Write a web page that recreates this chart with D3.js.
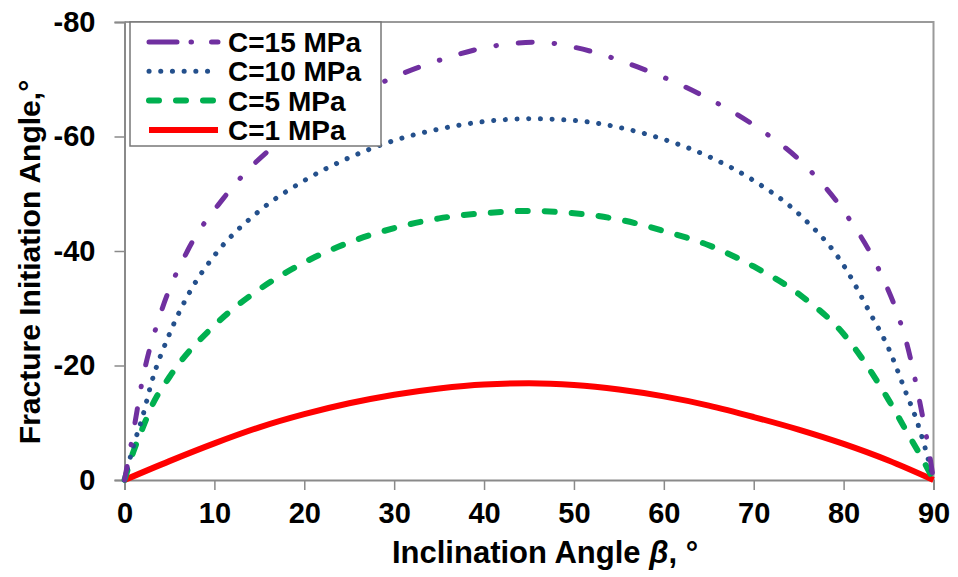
<!DOCTYPE html>
<html>
<head>
<meta charset="utf-8">
<script src="https://cdn.jsdelivr.net/npm/d3@7"></script>
<style>
  body { margin: 0; background: #fff; }
  text { font-family: "Liberation Sans", Arial, sans-serif; font-weight: bold; fill: #000; }
</style>
</head>
<body>
<div class="chart"></div>
<script>
// series data (beta in degrees, angle in degrees)
var beta15 = [0, 1, 2, 4, 7, 11, 16, 20, 25, 29, 36, 40, 43, 46, 50, 57, 64, 70, 76, 80, 84, 86, 87, 88.5, 89.5, 90];
var val15  = [0, -8.5, -17.5, -29, -40, -49.2, -57.5, -62, -66.5, -69.7, -73.8, -75.5, -76.2, -76.5, -75.6, -72.2, -67.4, -62, -54.5, -47, -36.5, -29, -24, -13.4, -5, 0];

var beta10 = [0, 1, 2, 3, 5, 7.5, 10, 15, 20, 25, 30, 35, 40, 45, 50, 55, 60, 65, 70, 75, 80, 83, 85, 87, 88, 89, 90];
var val10  = [0, -6, -11, -17, -25.5, -33.5, -39.2, -47, -52.3, -56.3, -59.3, -61.3, -62.6, -63.1, -62.8, -61.6, -59.5, -56.5, -52.3, -46.5, -37.5, -29, -23, -15, -11, -6, 0];

var beta5 = [0, 1, 2, 3, 5, 10, 15, 20, 25, 30, 35, 40, 45, 50, 55, 60, 65, 70, 75, 80, 85, 87, 89, 90];
var val5  = [0, -5, -9, -12.8, -18, -27, -33.3, -38, -41.5, -44, -45.7, -46.6, -47, -46.6, -45.5, -43.5, -41, -37.3, -32.5, -25.5, -14, -8.5, -3, 0];

var beta1 = [0, 5, 10, 15, 20, 25, 30, 35, 40, 45, 50, 55, 60, 65, 70, 75, 80, 85, 90];
var val1  = [0, -3.3, -6.4, -9.2, -11.5, -13.4, -14.9, -16.0, -16.7, -16.9, -16.6, -15.8, -14.6, -13.0, -11.0, -8.8, -6.3, -3.4, 0];

var seriesNames = ["C=15 MPa", "C=10 MPa", "C=5 MPa", "C=1 MPa"];
var xTicks = [0, 10, 20, 30, 40, 50, 60, 70, 80, 90];
var yTicks = [0, -20, -40, -60, -80];

var width = 958, height = 577;
var margin = {left: 124.5, right: 24.5, top: 22, bottom: 97};
var plotW = width - margin.left - margin.right;
var plotH = height - margin.top - margin.bottom;

var svg = d3.select(".chart").append("svg").attr("width", width).attr("height", height);

//Making the x axis
var x = d3.scaleLinear().domain([0, 90]).range([0, plotW]);
//Making the y axis (0 at the bottom, -80 at the top)
var y = d3.scaleLinear().domain([0, -80]).range([plotH, 0]);

var chartGroup = svg.append("g").attr("transform", "translate(" + margin.left + "," + margin.top + ")");

// frame on top and right
chartGroup.append("path")
  .attr("d", "M0,0H" + plotW + "V" + plotH)
  .attr("fill", "none")
  .attr("stroke", "#9a9a9a")
  .attr("stroke-width", 2);

// plain hyphen for negatives, like the original
var fmt = function(d) { return String(d); };

//x axis
var xAxis = d3.axisBottom(x).tickValues(xTicks).tickFormat(fmt).tickSize(10).tickPadding(12);
var gx = chartGroup.append("g").attr("transform", "translate(0," + plotH + ")").call(xAxis);

//y axis
var yAxis = d3.axisLeft(y).tickValues(yTicks).tickFormat(fmt).tickSize(10).tickPadding(19);
var gy = chartGroup.append("g").call(yAxis);

[gx, gy].forEach(function(g) {
  g.select(".domain").attr("stroke", "#8a8a8a").attr("stroke-width", 2);
  g.selectAll(".tick line").attr("stroke", "#8a8a8a").attr("stroke-width", 1.5);
  g.selectAll(".tick text")
    .style("font-family", "'Liberation Sans', Arial, sans-serif")
    .style("font-weight", "bold")
    .style("font-size", "29px")
    .attr("fill", "#000");
});
gx.selectAll(".tick text").attr("dy", "0.71em");

//Drawing the lines
var line = d3.line()
  .x(function(d) { return x(d[0]); })
  .y(function(d) { return y(d[1]); })
  .curve(d3.curveMonotoneX);

var styles = [
  {color: "#7030a0", width: 5, dash: "14,22,0.5,22", cap: "round"},
  {color: "#24508c", width: 5, dash: "0.1,11.6", cap: "round"},
  {color: "#00b050", width: 6, dash: "10,17", cap: "round"},
  {color: "#ff0000", width: 6, dash: null, cap: "butt"}
];
var series = [d3.zip(beta15, val15), d3.zip(beta10, val10), d3.zip(beta5, val5), d3.zip(beta1, val1)];

// draw back to front so red sits on top
for (var i = series.length - 1; i >= 0; i--) {
  chartGroup.append("path")
    .attr("fill", "none")
    .attr("stroke", styles[i].color)
    .attr("stroke-width", styles[i].width)
    .attr("stroke-linecap", styles[i].cap)
    .attr("stroke-dasharray", styles[i].dash)
    .attr("d", line(series[i]));
}

// legend
var legend = svg.append("g").attr("transform", "translate(130,22)");
legend.append("rect")
  .attr("width", 251).attr("height", 124)
  .attr("fill", "#fff")
  .attr("stroke", "#777").attr("stroke-width", 1.5);

seriesNames.forEach(function(name, i) {
  var yy = 20 + i * 29.3;
  legend.append("line")
    .attr("x1", 19).attr("x2", 88).attr("y1", yy).attr("y2", yy)
    .attr("stroke", styles[i].color)
    .attr("stroke-width", styles[i].width)
    .attr("stroke-linecap", styles[i].cap)
    .attr("stroke-dasharray", i == 0 ? "28,14,0.5,20" : styles[i].dash);
  legend.append("text")
    .attr("x", 98).attr("y", yy).attr("dy", "0.36em")
    .style("font-size", "28px")
    .text(name);
});

// text label for the y axis
svg.append("text")
  .attr("transform", "translate(40,262) rotate(-90)")
  .style("text-anchor", "middle")
  .style("font-size", "30px")
  .text("Fracture Initiation Angle,°");

// text label for the x axis
var xt = svg.append("text")
  .attr("x", 545).attr("y", 563)
  .style("text-anchor", "middle")
  .style("font-size", "31px");
xt.append("tspan").text("Inclination Angle ");
xt.append("tspan").style("font-style", "italic").text("β");
xt.append("tspan").text(", °");
</script>
</body>
</html>
